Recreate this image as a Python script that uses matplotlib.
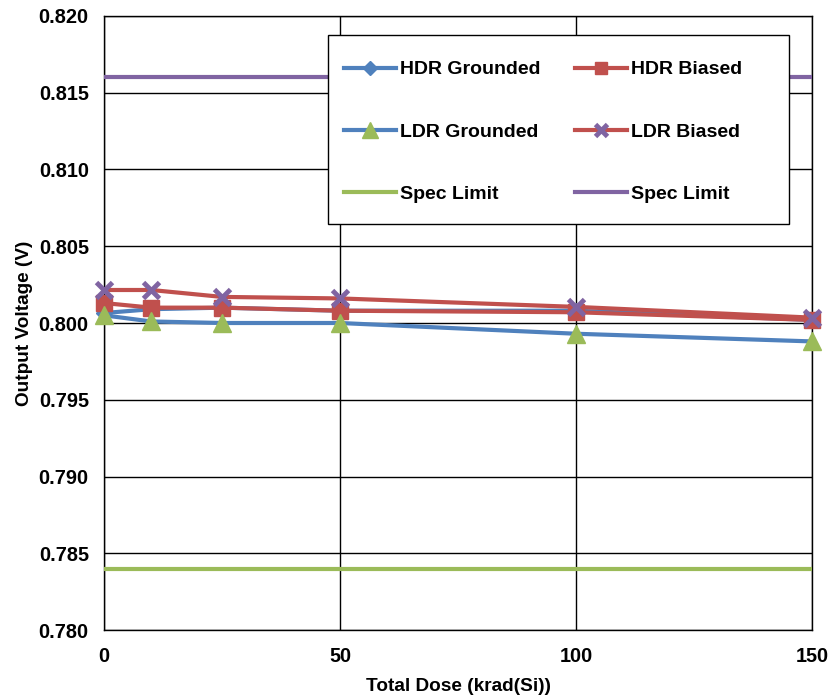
import matplotlib
matplotlib.use("Agg")
import matplotlib.pyplot as plt
from matplotlib.patches import Rectangle

plt.rcParams['font.family'] = ['Liberation Sans', 'DejaVu Sans']
plt.rcParams['font.weight'] = 'bold'

# data
dose = [0, 10, 25, 50, 100, 150]
hdr_grounded = [0.80065, 0.80090, 0.80100, 0.80080, 0.80080, 0.80020]
hdr_biased = [0.80130, 0.80100, 0.80100, 0.80080, 0.80070, 0.80020]
ldr_grounded = [0.80050, 0.80010, 0.80000, 0.80000, 0.79930, 0.79880]
ldr_biased = [0.80215, 0.80215, 0.80170, 0.80160, 0.80105, 0.80035]
spec_low = 0.784
spec_high = 0.816

blue = '#4F81BD'
red = '#C0504D'
green = '#9BBB59'
purple = '#8064A2'

fig = plt.figure(figsize=(8.29, 6.95), dpi=100)
ax = fig.add_axes([0.1255, 0.0935, 0.854, 0.8835])

lw = 3
ax.plot(dose, hdr_grounded, color=blue, lw=lw, marker='D', ms=8,
        mfc=blue, mec=blue, label='HDR Grounded', clip_on=False, zorder=3)
ax.plot(dose, ldr_grounded, color=blue, lw=lw, marker='^', ms=13,
        mfc=green, mec=green, label='LDR Grounded', clip_on=False, zorder=4)
ax.plot([0, 150], [spec_low, spec_low], color=green, lw=lw, label='Spec Limit', zorder=3)
ax.plot(dose, hdr_biased, color=red, lw=lw, marker='s', ms=11,
        mfc=red, mec=red, label='HDR Biased', clip_on=False, zorder=3)
ax.plot(dose, ldr_biased, color=red, lw=lw, marker='x', ms=11, mew=3.5,
        mfc=purple, mec=purple, label='LDR Biased', clip_on=False, zorder=5)
ax.plot([0, 150], [spec_high, spec_high], color=purple, lw=lw, label='Spec Limit', zorder=3)

ax.set_xlim(0, 150)
ax.set_ylim(0.780, 0.820)
ax.set_xticks([0, 50, 100, 150])
ax.set_yticks([0.780 + 0.005 * i for i in range(9)])
ax.yaxis.set_major_formatter(matplotlib.ticker.FormatStrFormatter('%.3f'))
ax.grid(True, color='black', lw=1)
ax.set_axisbelow(True)
for s in ax.spines.values():
    s.set_color('black')
    s.set_linewidth(1)
ax.tick_params(labelsize=14.3, length=0)
ax.tick_params(axis='y', pad=11)
ax.tick_params(axis='x', pad=12)
for lab in ax.get_xticklabels() + ax.get_yticklabels():
    lab.set_fontweight('bold')

ax.set_xlabel('Total Dose (krad(Si))', fontsize=13.7, fontweight='bold', labelpad=9)
ax.set_ylabel('Output Voltage (V)', fontsize=13.7, fontweight='bold', labelpad=4)

# legend box drawn separately so its size matches the reference
box = Rectangle((0.3164, 0.661), 0.6511, 0.308, transform=ax.transAxes,
                facecolor='white', edgecolor='black', lw=1, zorder=9)
ax.add_patch(box)

leg = ax.legend(ncol=2, loc='upper left', bbox_to_anchor=(0.325, 0.943),
                fontsize=14, frameon=False, handlelength=2.7, labelspacing=2.3,
                columnspacing=1.75, borderpad=0, handletextpad=0.2,
                markerscale=0.85)
leg.set_zorder(10)

fig.savefig('out.png', dpi=100)
